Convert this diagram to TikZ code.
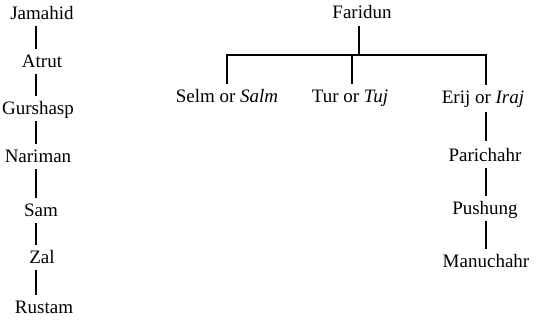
\documentclass[tikz,border=0pt]{standalone}
\usepackage{fontspec}
\setmainfont{Liberation Serif}
\usetikzlibrary{calc}
\begin{document}
\begin{tikzpicture}[x=0.5pt,y=-0.5pt,
  person/.style={inner sep=0pt,font=\fontsize{9.5}{11}\selectfont,anchor=base,
    text height=6.2pt,text depth=0pt},
  link/.style={line width=0.9pt}]
\useasboundingbox (0,0) rectangle (536,320);
% left column
\node[person] (jam) at (42,20) {Jamahid};
\node[person] (atr) at (42,68) {Atrut};
\node[person] (gur) at (38,115) {Gurshasp};
\node[person] (nar) at (38,163) {Nariman};
\node[person] (sam) at (41,217) {Sam};
\node[person] (zal) at (42,264) {Zal};
\node[person] (rus) at (44,314) {Rustam};
\coordinate (lx) at (36,0);
\foreach \a/\b in {jam/atr,atr/gur,gur/nar,nar/sam,sam/zal,zal/rus}
  \draw[link] ($(lx |- \a.south)+(0,-3pt)$) -- ($(lx |- \b.north)+(0,3pt)$);
% right tree
\node[person] (far) at (362,19) {Faridun};
\node[person] (selm) at (227,103) {Selm or \textit{Salm}};
\node[person] (tur) at (350,103) {Tur or \textit{Tuj}};
\node[person] (erij) at (483,104) {Erij or \textit{Iraj}};
\node[person] (par) at (485,162) {Parichahr};
\node[person] (pus) at (485,215) {Pushung};
\node[person] (man) at (486,268) {Manuchahr};
\coordinate (bf) at (359,55);
\coordinate (bs) at (227,55);
\coordinate (bt) at (352,55);
\coordinate (be) at (486,55);
\draw[link] ($(bf |- far.south)+(0,-3.5pt)$) -- (bf);
\draw[link] ($(bs |- selm.north)+(0,3pt)$) -- (bs) -- (be) -- ($(be |- erij.north)+(0,3pt)$);
\draw[link] (bt) -- ($(bt |- tur.north)+(0,3pt)$);
\draw[link] ($(be |- erij.south)+(0,-4pt)$) -- ($(be |- par.north)+(0,4pt)$);
\draw[link] ($(be |- par.south)+(0,-3pt)$) -- ($(be |- pus.north)+(0,3pt)$);
\draw[link] ($(be |- pus.south)+(0,-3pt)$) -- ($(be |- man.north)+(0,3pt)$);
\end{tikzpicture}
\end{document}
